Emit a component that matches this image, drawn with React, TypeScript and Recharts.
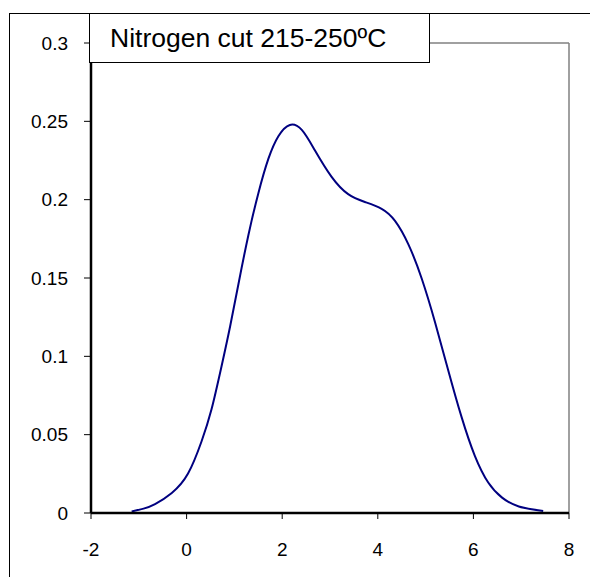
import { LineChart, Line, XAxis, YAxis, ReferenceLine } from 'recharts'

// KDE curve (x, density)
const xs = [-1.15, -0.9, -0.66, -0.31, 0.03, 0.31, 0.52, 0.73, 0.91, 1.09, 1.29, 1.5, 1.71, 1.92, 2.16, 2.41, 2.68, 3.03, 3.38, 3.73, 4.08, 4.36, 4.64, 4.92, 5.2, 5.47, 5.75, 6.03, 6.31, 6.6, 6.95, 7.46]
const ys = [0.001, 0.0028, 0.0057, 0.0128, 0.0252, 0.0455, 0.066, 0.0935, 0.119, 0.147, 0.177, 0.204, 0.226, 0.2405, 0.2477, 0.2445, 0.2317, 0.2147, 0.2035, 0.1985, 0.1942, 0.1865, 0.1715, 0.1495, 0.1215, 0.0915, 0.0615, 0.0365, 0.0195, 0.0098, 0.0042, 0.0013]

const xTicks = [-2, 0, 2, 4, 6, 8]
const yTicks = [0, 0.05, 0.1, 0.15, 0.2, 0.25, 0.3]
const yLabels = ['0', '0.05', '0.1', '0.15', '0.2', '0.25', '0.3']
const title = 'Nitrogen cut 215-250ºC'

const data = xs.map((x, i) => ({ x, y: ys[i] }))
const FONT = '"Liberation Sans", Arial, sans-serif'

export default function App() {
  return (
    <div style={{ position: 'relative', width: 590, height: 569, overflow: 'hidden', fontFamily: FONT }}>
      <div style={{
        position: 'absolute', left: 1, top: 5, width: 700, height: 700,
        borderLeft: '1.5px solid #000', borderTop: '1.5px solid #000'
      }} />
      <div style={{ position: 'absolute', left: 0, top: 0 }}>
        <LineChart width={590} height={569} data={data} margin={{ top: 35, right: 29, bottom: 24, left: 23 }}>
          <ReferenceLine y={0.3} stroke="#808080" strokeWidth={1.5} />
          <ReferenceLine x={8} stroke="#808080" strokeWidth={1.5} />
          <XAxis
            dataKey="x" type="number" domain={[-2, 8]} ticks={xTicks} height={40}
            axisLine={{ stroke: '#000', strokeWidth: 2.5 }} tickLine={{ stroke: '#000' }}
            tickSize={6} tickMargin={24} tick={{ fill: '#000', fontSize: 19, fontFamily: FONT }}
            allowDataOverflow
          />
          <YAxis
            type="number" domain={[0, 0.3]} ticks={yTicks} width={60}
            tickFormatter={(v: number) => yLabels[yTicks.indexOf(v)] ?? String(v)}
            axisLine={{ stroke: '#000', strokeWidth: 2.5 }} tickLine={{ stroke: '#000' }}
            tickSize={7} tickMargin={16} tick={{ fill: '#000', fontSize: 19, fontFamily: FONT }}
            allowDataOverflow
          />
          <Line type="natural" dataKey="y" stroke="#000080" strokeWidth={2} dot={false} isAnimationActive={false} />
        </LineChart>
      </div>
      <div style={{
        position: 'absolute', left: 81, top: 5, width: 341, height: 50, boxSizing: 'border-box',
        border: '1.5px solid #000', background: '#fff', display: 'flex', alignItems: 'center',
        paddingLeft: 20, fontSize: 26.5, color: '#000', whiteSpace: 'nowrap'
      }}>
        {title}
      </div>
    </div>
  )
}
